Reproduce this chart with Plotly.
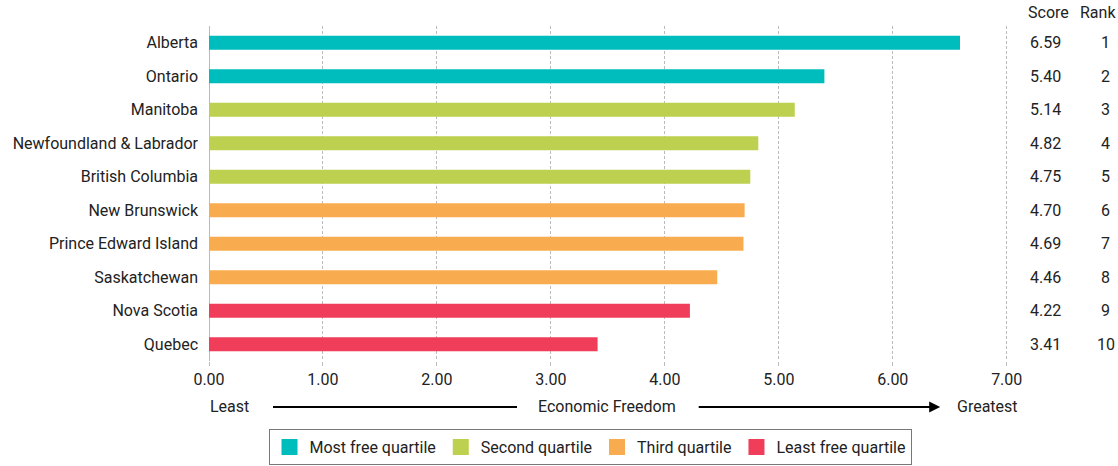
import plotly.graph_objects as go

provinces = ["Alberta", "Ontario", "Manitoba", "Newfoundland & Labrador", "British Columbia",
             "New Brunswick", "Prince Edward Island", "Saskatchewan", "Nova Scotia", "Quebec"]
scores = [6.59, 5.40, 5.14, 4.82, 4.75, 4.70, 4.69, 4.46, 4.22, 3.41]
ranks = [1, 2, 3, 4, 5, 6, 7, 8, 9, 10]
quartile = ["Most free quartile", "Most free quartile", "Second quartile", "Second quartile",
            "Second quartile", "Third quartile", "Third quartile", "Third quartile",
            "Least free quartile", "Least free quartile"]
quartile_names = ["Most free quartile", "Second quartile", "Third quartile", "Least free quartile"]
quartile_colors = ["#00BDBD", "#BDD04F", "#F9AC4F", "#EF3D5A"]
x_ticks = [0, 1, 2, 3, 4, 5, 6, 7]

FONT = "Roboto"
TXT = "#222222"
FS = 16

fig = go.Figure()
for name, col in zip(quartile_names, quartile_colors):
    ys = [p for p, q in zip(provinces, quartile) if q == name]
    xs = [s for s, q in zip(scores, quartile) if q == name]
    fig.add_trace(go.Bar(
        x=xs, y=ys, orientation="h", name=name, width=0.42, showlegend=False,
        marker=dict(color=col, line=dict(width=0)),
        hoverinfo="x+y",
    ))
# legend entries with larger square swatches
for name, col in zip(quartile_names, quartile_colors):
    fig.add_trace(go.Scatter(
        x=[None], y=[None], mode="markers", name=name,
        marker=dict(symbol="square", size=17, color=col), showlegend=True,
    ))

# Score / Rank columns
fig.add_annotation(x=1.049, y=1.0, xref="paper", yref="paper", text="Score", showarrow=False,
                   xanchor="center", yanchor="bottom", yshift=2, font=dict(size=FS, color=TXT, family=FONT))
fig.add_annotation(x=1.111, y=1.0, xref="paper", yref="paper", text="Rank", showarrow=False,
                   xanchor="center", yanchor="bottom", yshift=2, font=dict(size=FS, color=TXT, family=FONT))
for p, s, r in zip(provinces, scores, ranks):
    fig.add_annotation(x=1.046, y=p, xref="paper", yref="y", text=f"{s:.2f}", showarrow=False,
                       xanchor="center", yanchor="middle", font=dict(size=FS, color=TXT, family=FONT))
    fig.add_annotation(x=1.121, y=p, xref="paper", yref="y", text=str(r), showarrow=False,
                       xanchor="center", yanchor="middle", font=dict(size=FS, color=TXT, family=FONT))

# Axis caption with arrow
ycap = -0.137
fig.add_annotation(x=0.025, y=ycap, xref="paper", yref="paper", text="Least", showarrow=False,
                   xanchor="center", yanchor="middle", font=dict(size=FS, color=TXT, family=FONT))
fig.add_annotation(x=0.4975, y=ycap, xref="paper", yref="paper", text="Economic Freedom", showarrow=False,
                   xanchor="center", yanchor="middle", font=dict(size=FS, color=TXT, family=FONT))
fig.add_annotation(x=0.9725, y=ycap, xref="paper", yref="paper", text="Greatest", showarrow=False,
                   xanchor="center", yanchor="middle", font=dict(size=FS, color=TXT, family=FONT))
fig.add_shape(type="line", xref="paper", yref="paper", x0=0.08, x1=0.385, y0=ycap, y1=ycap,
              line=dict(color="black", width=2))
fig.add_annotation(x=0.914, y=ycap, xref="paper", yref="paper", ax=-243, ay=0, text="",
                   showarrow=True, arrowhead=2, arrowsize=1.1, arrowwidth=2, arrowcolor="black")

fig.update_layout(
    width=1118, height=466,
    margin=dict(l=209, r=109, t=26, b=105, autoexpand=False),
    plot_bgcolor="white", paper_bgcolor="white",
    barmode="relative",
    font=dict(family=FONT, size=FS, color=TXT),
    showlegend=True,
    legend=dict(orientation="h", xref="container", x=590 / 1118, xanchor="center",
                yref="container", y=1 - 429 / 466, yanchor="top",
                bordercolor="#777777", borderwidth=1, font=dict(size=FS, color=TXT, family=FONT),
                traceorder="normal", itemsizing="trace"),
    xaxis=dict(range=[0, 7.02], tickvals=x_ticks, ticktext=[f"{v:.2f}" for v in x_ticks],
               showgrid=True, gridcolor="#BBBBBB", griddash="3px,2px", gridwidth=1,
               zeroline=True, zerolinecolor="#BBBBBB", zerolinewidth=1,
               ticks="outside", ticklen=4, tickcolor="#BBBBBB", showline=False,
               ticklabelstandoff=0, automargin=False,
               tickfont=dict(size=FS, color=TXT, family=FONT), fixedrange=True),
    yaxis=dict(categoryorder="array", categoryarray=provinces, autorange="reversed",
               showgrid=False, ticks="", ticklabelstandoff=10, automargin=False,
               tickfont=dict(size=FS, color=TXT, family=FONT), fixedrange=True),
)

fig.write_html("out.html", config={"displayModeBar": False},
               post_script="document.body.style.margin='0';document.body.style.overflow='hidden';")
